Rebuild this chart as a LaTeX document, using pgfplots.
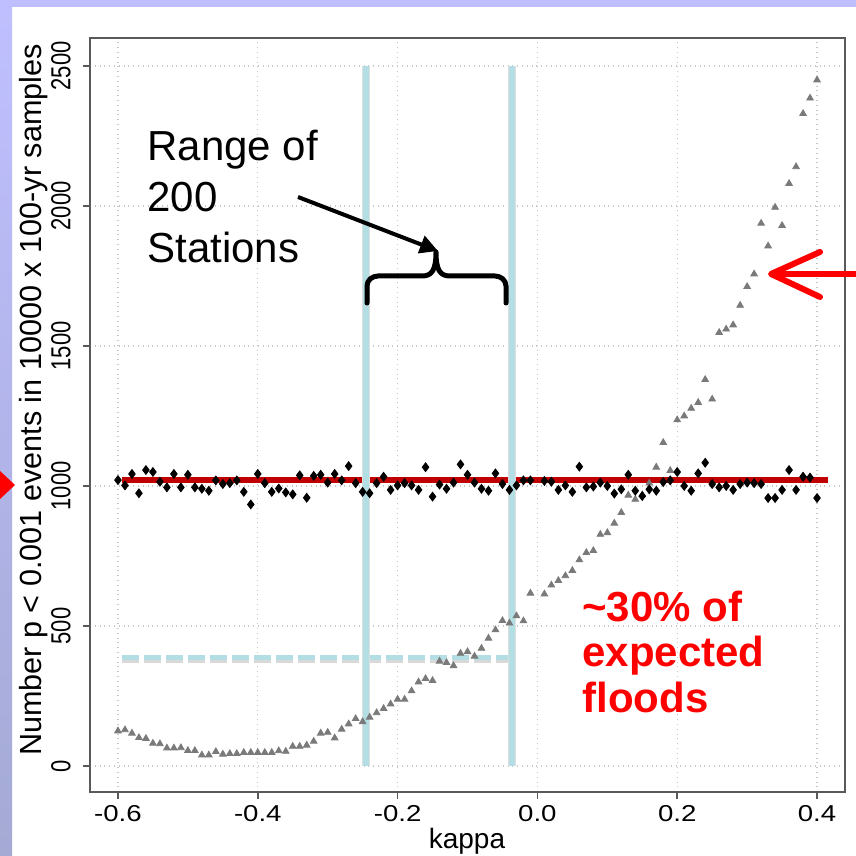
\documentclass[border=0pt]{standalone}
\usepackage{pgfplots}
\pgfplotsset{compat=1.18}
\usepackage{fontspec}
\setmainfont{Liberation Sans}
\newfontfamily\xfont{Liberation Sans}[FakeStretch=1.2]
\usetikzlibrary{arrows.meta}
\definecolor{bgl}{HTML}{BFBFFF}
\definecolor{bgd}{HTML}{A4AAD4}
\definecolor{pblue}{HTML}{B3DEE3}
\definecolor{dred}{HTML}{C00000}
\definecolor{tri}{HTML}{7A7A7A}
\newcommand{\yl}[1]{\scalebox{1}[1.25]{#1}}

\pgfplotstableread{
k v
-0.60 125
-0.59 129
-0.58 117
-0.57 101
-0.56 98
-0.55 81
-0.54 79
-0.53 64
-0.52 64
-0.51 65
-0.50 55
-0.49 55
-0.48 39
-0.47 39
-0.46 51
-0.45 42
-0.44 44
-0.43 44
-0.42 48
-0.41 48
-0.40 48
-0.39 48
-0.38 48
-0.37 54
-0.36 52
-0.35 70
-0.34 70
-0.33 74
-0.32 88
-0.31 117
-0.30 120
-0.29 100
-0.28 131
-0.27 150
-0.26 169
-0.25 158
-0.24 174
-0.23 190
-0.22 205
-0.21 221
-0.20 238
-0.19 238
-0.18 268
-0.17 300
-0.16 312
-0.15 305
-0.14 374
-0.13 369
-0.12 358
-0.11 402
-0.10 408
-0.09 392
-0.08 420
-0.07 456
-0.06 486
-0.05 519
-0.04 510
-0.03 536
-0.02 518
-0.01 617
0.01 614
0.02 646
0.03 662
0.04 679
0.05 698
0.06 736
0.07 762
0.08 769
0.09 827
0.10 833
0.11 867
0.12 905
0.13 967
0.14 952
0.15 968
0.16 1010
0.17 1067
0.18 1155
0.19 1055
0.20 1236
0.21 1250
0.22 1277
0.23 1298
0.24 1380
0.25 1310
0.26 1548
0.27 1560
0.28 1575
0.29 1645
0.30 1712
0.31 1757
0.32 1938
0.33 1857
0.34 1995
0.35 1930
0.36 2080
0.37 2140
0.38 2330
0.39 2385
0.40 2450
}\tritable

\pgfplotstableread{
k v
-0.60 1021
-0.59 1002
-0.58 1043
-0.57 974
-0.56 1057
-0.55 1050
-0.54 1015
-0.53 995
-0.52 1043
-0.51 995
-0.50 1040
-0.49 995
-0.48 990
-0.47 983
-0.46 1020
-0.45 1007
-0.44 1010
-0.43 1020
-0.42 979
-0.41 934
-0.40 1043
-0.39 1010
-0.38 979
-0.37 991
-0.36 977
-0.35 970
-0.34 1038
-0.33 958
-0.32 1036
-0.31 1040
-0.30 1012
-0.29 1043
-0.28 1020
-0.27 1071
-0.26 1010
-0.25 979
-0.24 974
-0.23 1010
-0.22 1033
-0.21 986
-0.20 1002
-0.19 1010
-0.18 1002
-0.17 986
-0.16 1067
-0.15 962
-0.14 1005
-0.13 990
-0.12 1012
-0.11 1077
-0.10 1040
-0.09 1012
-0.08 990
-0.07 983
-0.06 1045
-0.05 1007
-0.04 986
-0.03 1002
-0.02 1020
-0.01 1020
0.01 1018
0.02 1015
0.03 986
0.04 1002
0.05 979
0.06 1069
0.07 995
0.08 998
0.09 1012
0.10 1000
0.11 973
0.12 988
0.13 1040
0.14 983
0.15 964
0.16 988
0.17 983
0.18 1014
0.19 1020
0.20 1050
0.21 1000
0.22 983
0.23 1045
0.24 1083
0.25 1007
0.26 995
0.27 1000
0.28 986
0.29 1007
0.30 1012
0.31 1010
0.32 1007
0.33 957
0.34 957
0.35 986
0.36 1057
0.37 986
0.38 1033
0.39 1030
0.40 957
}\diatable

\begin{document}
\begin{tikzpicture}[x=1pt,y=1pt]
\fill[white] (0,0) rectangle (428pt,428pt);
\useasboundingbox (0,0) rectangle (428pt,428pt);
\fill[bgl] (0,424.5pt) rectangle (428pt,428pt);
\shade[top color=bgl, bottom color=bgd] (0,0) rectangle (6pt,424.5pt);
\begin{axis}[
  at={(45pt,32pt)}, anchor=south west,
  scale only axis, width=377.5pt, height=377pt,
  xmin=-0.64, xmax=0.44, ymin=-93, ymax=2600,
  clip=false,
  axis line style={black!65, line width=0.8pt},
  tick pos=left, tick align=outside,
  major tick length=3.5pt,
  every tick/.style={black!65, line width=0.8pt},
  grid=major,
  major grid style={black!22, dotted, line width=0.6pt},
  xtick={-0.6,-0.4,-0.2,0,0.2,0.4},
  xticklabels={\mbox{-0.6},\mbox{-0.4},\mbox{-0.2},\mbox{0.0},\mbox{0.2},\mbox{0.4}},
  ytick={0,500,1000,1500,2000,2500},
  yticklabels={\yl{0},\yl{500},\yl{1000},\yl{1500},\yl{2000},\yl{2500}},
  xticklabel style={font=\xfont\fontsize{11.5}{13}\selectfont, anchor=north, inner sep=0pt},
  xticklabel shift=3pt,
  yticklabel style={font=\fontsize{11}{13}\selectfont, rotate=90, anchor=south, inner sep=0pt},
  yticklabel shift=6pt,
]
\addplot[only marks, mark=triangle*, mark size=1.9pt, color=tri] table[x=k,y=v]{\tritable};
\addplot[only marks, mark=diamond*, mark size=2.2pt, black] table[x=k,y=v]{\diatable};
\addplot[dred, line width=2.7pt, mark=none] coordinates {(-0.594,1022) (0.415,1022)};
\addplot[gray!30, line width=1.8pt, mark=none, dash pattern=on 8.2pt off 2.8pt, yshift=-1.7pt] coordinates {(-0.594,386) (-0.041,386)};
\addplot[pblue, line width=2.4pt, mark=none, dash pattern=on 8.2pt off 2.8pt] coordinates {(-0.594,386) (-0.041,386)};
\addplot[gray!25, line width=4.2pt, mark=none] coordinates {(-0.245,0) (-0.245,2500)};
\addplot[gray!25, line width=4.2pt, mark=none] coordinates {(-0.036,0) (-0.036,2500)};
\addplot[pblue, line width=3.2pt, mark=none] coordinates {(-0.245,0) (-0.245,2500)};
\addplot[pblue, line width=3.2pt, mark=none] coordinates {(-0.036,0) (-0.036,2500)};
\end{axis}
\begin{scope}[x=0.5pt,y=-0.5pt,yshift=428pt]
% y label
\node[rotate=90, font=\fontsize{15.3}{17}\selectfont, inner sep=0pt] at (34,400) {Number p < 0.001 events in 10000 x 100-yr samples};
\node[font=\fontsize{14}{16}\selectfont, inner sep=0pt, anchor=north] at (467,828) {kappa};
% annotation text
\node[font=\fontsize{21}{25}\selectfont, anchor=base west, inner sep=0pt] at (147,161) {Range of};
\node[font=\fontsize{21}{25}\selectfont, anchor=base west, inner sep=0pt] at (147,212) {200};
\node[font=\fontsize{21}{25}\selectfont, anchor=base west, inner sep=0pt] at (147,263) {Stations};
\node[font=\bfseries\fontsize{21}{25}\selectfont, text=red, anchor=base west, inner sep=0pt] at (582,622) {\char`\~30\% of};
\node[font=\bfseries\fontsize{21}{25}\selectfont, text=red, anchor=base west, inner sep=0pt] at (582,667) {expected};
\node[font=\bfseries\fontsize{21}{25}\selectfont, text=red, anchor=base west, inner sep=0pt] at (582,713) {floods};
% black arrow
\draw[line width=2pt, -{Triangle[length=9pt,width=9pt]}] (298,197) -- (438,251);
% brace
\draw[line width=2.5pt, line cap=round, line join=round]
  (367,303) -- (367,286) to[out=90,in=180] (378,276) -- (422,276)
  .. controls (432,276) and (436,270) .. (436,252)
  .. controls (436,270) and (440,276) .. (450,276)
  -- (495,276) to[out=0,in=90] (506,286) -- (506,303);
% red arrows
\draw[red, line width=3pt, line cap=round, line join=round] (820,252) -- (771,274) -- (820,297);
\draw[red, line width=3pt] (776,274) -- (860,274);
\fill[red] (0,471) -- (15,485) -- (0,499) -- cycle;
\end{scope}
\end{tikzpicture}
\end{document}
